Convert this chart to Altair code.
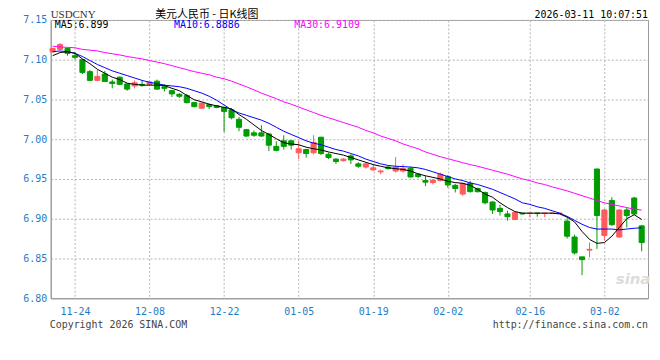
import altair as alt
import pandas as pd

# ---- data ----
idx = list(range(80))
opens = [7.110, 7.113, 7.114, 7.105, 7.100, 7.085, 7.074, 7.082, 7.072, 7.078,
         7.0695, 7.067, 7.069, 7.069, 7.073, 7.066, 7.061, 7.0565, 7.055, 7.046,
         7.039, 7.0435, 7.042, 7.040, 7.037, 7.025, 7.012, 7.008, 7.008, 7.0065,
         6.991, 6.998, 6.998, 6.983, 6.987, 6.983, 7.0025, 6.981, 6.975, 6.973,
         6.979, 6.969, 6.965, 6.9615, 6.959, 6.965, 6.960, 6.960, 6.9635, 6.956,
         6.948, 6.9455, 6.948, 6.953, 6.942, 6.931, 6.9445, 6.938, 6.933, 6.921,
         6.913, 6.906, 6.899, 6.907, 6.9069, 6.907, 6.9069, 6.9069, 6.9069, 6.897,
         6.877, 6.852, 6.8605, 6.9625, 6.879, 6.923, 6.877, 6.911, 6.926, 6.891]
closes = [7.114, 7.119, 7.108, 7.103, 7.084, 7.074, 7.079, 7.0725, 7.070, 7.069,
          7.063, 7.071, 7.068, 7.072, 7.063, 7.064, 7.057, 7.054, 7.046, 7.041,
          7.0455, 7.041, 7.040, 7.035, 7.027, 7.015, 7.004, 7.005, 7.004, 6.9925,
          6.986, 6.991, 6.9925, 6.988, 6.982, 6.996, 6.982, 6.977, 6.972, 6.975,
          6.974, 6.966, 6.969, 6.964, 6.960, 6.963, 6.965, 6.963, 6.9525, 6.953,
          6.946, 6.9485, 6.956, 6.9425, 6.938, 6.9445, 6.934, 6.934, 6.920, 6.911,
          6.909, 6.9025, 6.908, 6.906, 6.907, 6.9069, 6.907, 6.907, 6.907, 6.878,
          6.857, 6.8485, 6.8615, 6.904, 6.911, 6.8925, 6.911, 6.904, 6.906, 6.870]
highs = [7.115, 7.121, 7.115, 7.110, 7.101, 7.087, 7.087, 7.086, 7.075, 7.079,
         7.070, 7.074, 7.074, 7.073, 7.075, 7.069, 7.062, 7.058, 7.057, 7.047,
         7.046, 7.045, 7.043, 7.041, 7.039, 7.028, 7.013, 7.011, 7.0175, 7.008,
         6.9975, 7.005, 6.999, 6.9975, 6.988, 7.005, 7.003, 6.983, 6.976, 6.976,
         6.981, 6.971, 6.971, 6.969, 6.962, 6.966, 6.9775, 6.9685, 6.965, 6.957,
         6.954, 6.950, 6.958, 6.955, 6.944, 6.945, 6.9475, 6.939, 6.934, 6.922,
         6.9175, 6.910, 6.909, 6.907, 6.907, 6.907, 6.907, 6.907, 6.907, 6.9015,
         6.880, 6.852, 6.870, 6.963, 6.912, 6.927, 6.912, 6.914, 6.9275, 6.892]
lows = [7.109, 7.112, 7.105, 7.100, 7.082, 7.073, 7.073, 7.072, 7.064, 7.068,
        7.061, 7.064, 7.066, 7.067, 7.062, 7.060, 7.053, 7.052, 7.045, 7.040,
        7.038, 7.038, 7.039, 7.009, 7.025, 7.010, 7.003, 7.003, 7.003, 6.985,
        6.985, 6.987, 6.987, 6.975, 6.977, 6.981, 6.980, 6.975, 6.969, 6.972,
        6.969, 6.964, 6.963, 6.960, 6.956, 6.962, 6.958, 6.958, 6.952, 6.951,
        6.941, 6.943, 6.947, 6.939, 6.933, 6.929, 6.933, 6.933, 6.918, 6.906,
        6.904, 6.8975, 6.898, 6.9055, 6.902, 6.9025, 6.902, 6.906, 6.906, 6.875,
        6.855, 6.829, 6.8516, 6.862, 6.8725, 6.891, 6.876, 6.889, 6.905, 6.859]
ma5 = [7.105, 7.109, 7.110, 7.108, 7.101, 7.095, 7.088, 7.083, 7.078, 7.075,
       7.0705, 7.069, 7.068, 7.068, 7.068, 7.0675, 7.064, 7.061, 7.055, 7.0496,
       7.047, 7.044, 7.042, 7.040, 7.038, 7.031, 7.025, 7.018, 7.011, 7.006,
       7.0006, 6.9955, 6.994, 6.993, 6.990, 6.988, 6.9865, 6.984, 6.982, 6.980,
       6.977, 6.974, 6.971, 6.968, 6.966, 6.964, 6.963, 6.962, 6.960, 6.9565,
       6.954, 6.952, 6.950, 6.947, 6.9455, 6.9445, 6.942, 6.937, 6.931, 6.927,
       6.920, 6.914, 6.909, 6.907, 6.907, 6.907, 6.907, 6.907, 6.906, 6.902,
       6.896, 6.884, 6.874, 6.869, 6.870, 6.878, 6.889, 6.900, 6.905, 6.899]
ma10 = [7.110, 7.111, 7.110, 7.108, 7.104, 7.099, 7.094, 7.090, 7.086, 7.083,
        7.080, 7.077, 7.074, 7.0715, 7.070, 7.068, 7.067, 7.066, 7.064, 7.061,
        7.058, 7.054, 7.049, 7.043, 7.037, 7.033, 7.030, 7.027, 7.024, 7.020,
        7.015, 7.010, 7.006, 7.002, 6.998, 6.995, 6.993, 6.990, 6.987, 6.985,
        6.982, 6.979, 6.975, 6.972, 6.969, 6.967, 6.966, 6.9655, 6.965, 6.964,
        6.962, 6.959, 6.956, 6.953, 6.950, 6.948, 6.945, 6.943, 6.940, 6.937,
        6.933, 6.929, 6.925, 6.920, 6.918, 6.915, 6.913, 6.910, 6.907, 6.903,
        6.898, 6.893, 6.889, 6.887, 6.887, 6.887, 6.886, 6.887, 6.888, 6.8886]
ma30 = [7.117, 7.116, 7.1155, 7.115, 7.113, 7.112, 7.111, 7.109, 7.1075, 7.106,
        7.104, 7.1025, 7.101, 7.099, 7.097, 7.095, 7.0925, 7.090, 7.0875, 7.085,
        7.083, 7.081, 7.078, 7.076, 7.073, 7.0695, 7.066, 7.062, 7.058, 7.0545,
        7.051, 7.047, 7.044, 7.0405, 7.037, 7.0335, 7.030, 7.027, 7.024, 7.021,
        7.018, 7.015, 7.011, 7.008, 7.004, 7.001, 6.998, 6.994, 6.991, 6.988,
        6.984, 6.981, 6.978, 6.9755, 6.973, 6.9705, 6.968, 6.966, 6.9635, 6.961,
        6.9585, 6.956, 6.953, 6.950, 6.948, 6.945, 6.943, 6.940, 6.9375, 6.935,
        6.932, 6.929, 6.926, 6.923, 6.920, 6.918, 6.916, 6.914, 6.912, 6.9109]

tick_idx = [3, 13, 23, 33, 43, 53, 64, 74]
tick_lbl = ["11-24", "12-08", "12-22", "01-05", "01-19", "02-02", "02-16", "03-02"]
y_ticks = [6.80, 6.85, 6.90, 6.95, 7.00, 7.05, 7.10, 7.15]

title_txt = "美元人民币 - 日K线图"
symbol_txt = "USDCNY"
time_txt = "2026-03-11 10:07:51"
ma_txt = ["MA5:6.899", "MA10:6.8886", "MA30:6.9109"]
copy_txt = "Copyright 2026 SINA.COM"
url_txt = "http://finance.sina.com.cn"

# ---- styling ----
RED = "#ff5b5b"
GREEN = "#009c00"
BLUE_LBL = "#1f7cc4"
MONO = "DejaVu Sans Mono"

df = pd.DataFrame({"i": idx, "open": opens, "close": closes, "high": highs,
                   "low": lows, "ma5": ma5, "ma10": ma10, "ma30": ma30})

xs = alt.Scale(domain=[-0.25, 79.85], nice=False, zero=False)
ys = alt.Scale(domain=[6.80, 7.15], nice=False, zero=False)
cs = alt.Scale(domain=["up", "down"], range=[RED, GREEN])

lbl_expr = "[" + ",".join("'%s'" % s for s in tick_lbl) + "][indexof([" + \
    ",".join(str(v) for v in tick_idx) + "], datum.value)]"

xaxis = alt.Axis(values=tick_idx, labelExpr=lbl_expr, grid=True, gridDash=[2, 2],
                 gridColor="#b4b4b4", gridWidth=1, ticks=False, labelPadding=8,
                 labelColor=BLUE_LBL, labelFont=MONO, labelFontSize=10,
                 domainColor="#999999", title=None, labelFlush=False)
yaxis = alt.Axis(values=y_ticks, format=".2f", grid=True, gridDash=[2, 2],
                 gridColor="#b4b4b4", gridWidth=1, ticks=False, labelPadding=4,
                 labelColor=BLUE_LBL, labelFont=MONO, labelFontSize=10,
                 domainColor="#999999", title=None, labelFlush=False)

X = alt.X("i:Q", scale=xs, axis=xaxis)

base = alt.Chart(df).transform_calculate(
    dir="datum.close >= datum.open ? 'up' : 'down'",
    xl="datum.i - 0.34",
    xr="datum.i + 0.34",
)

wick = base.mark_rule(strokeWidth=1).encode(
    x=X,
    y=alt.Y("low:Q", scale=ys, axis=yaxis),
    y2="high:Q",
    color=alt.Color("dir:N", scale=cs, legend=None),
)
body = base.mark_bar(strokeWidth=1).encode(
    x=alt.X("xl:Q", scale=xs, axis=xaxis),
    x2="xr:Q",
    y=alt.Y("open:Q", scale=ys, axis=yaxis),
    y2="close:Q",
    fill=alt.Fill("dir:N", scale=cs, legend=None),
    stroke=alt.Stroke("dir:N", scale=cs, legend=None),
)


def ma_line(col, color):
    return alt.Chart(df).mark_line(color=color, strokeWidth=1).encode(
        x=X, y=alt.Y(col + ":Q", scale=ys, axis=yaxis))


l30 = ma_line("ma30", "#ff00ff")
l10 = ma_line("ma10", "#0000ff")
l5 = ma_line("ma5", "#000000")


def label(txt, x, y, color="#000000", size=10, font=MONO, align="left",
          style="normal", weight="normal"):
    return alt.Chart(pd.DataFrame({"t": [txt]})).mark_text(
        align=align, baseline="middle", font=font, fontSize=size, color=color,
        fontStyle=style, fontWeight=weight
    ).encode(text="t:N", x=alt.value(x), y=alt.value(y))


texts = [
    label(symbol_txt, 0, -5, color="#333333", size=11, font="Liberation Serif"),
    label(title_txt, 157, -5, size=11, font="Noto Sans CJK SC", align="center"),
    label(time_txt, 601, -5, size=10, align="right"),
    label(ma_txt[0], 4, 5.5, color="#000000"),
    label(ma_txt[1], 124, 5.5, color="#0000ff"),
    label(ma_txt[2], 245, 5.5, color="#ff00ff"),
    label(copy_txt, -1, 307, color="#444444"),
    label(url_txt, 601, 307, color="#444444", align="right"),
    label("sina", 586, 261, color="#dcdcdc", size=15, font="DejaVu Sans",
          style="italic", weight="bold", align="center"),
]

chart = alt.layer(wick, body, l30, l10, l5, *texts).properties(
    width=601, height=280,
    padding={"left": 43, "top": 11, "right": 4, "bottom": 39},
    autosize=alt.AutoSizeParams(type="none"),
    background="#ffffff",
).configure_view(stroke="#999999", strokeWidth=1)

chart.save("out.html", embed_options={"renderer": "svg", "actions": False})
